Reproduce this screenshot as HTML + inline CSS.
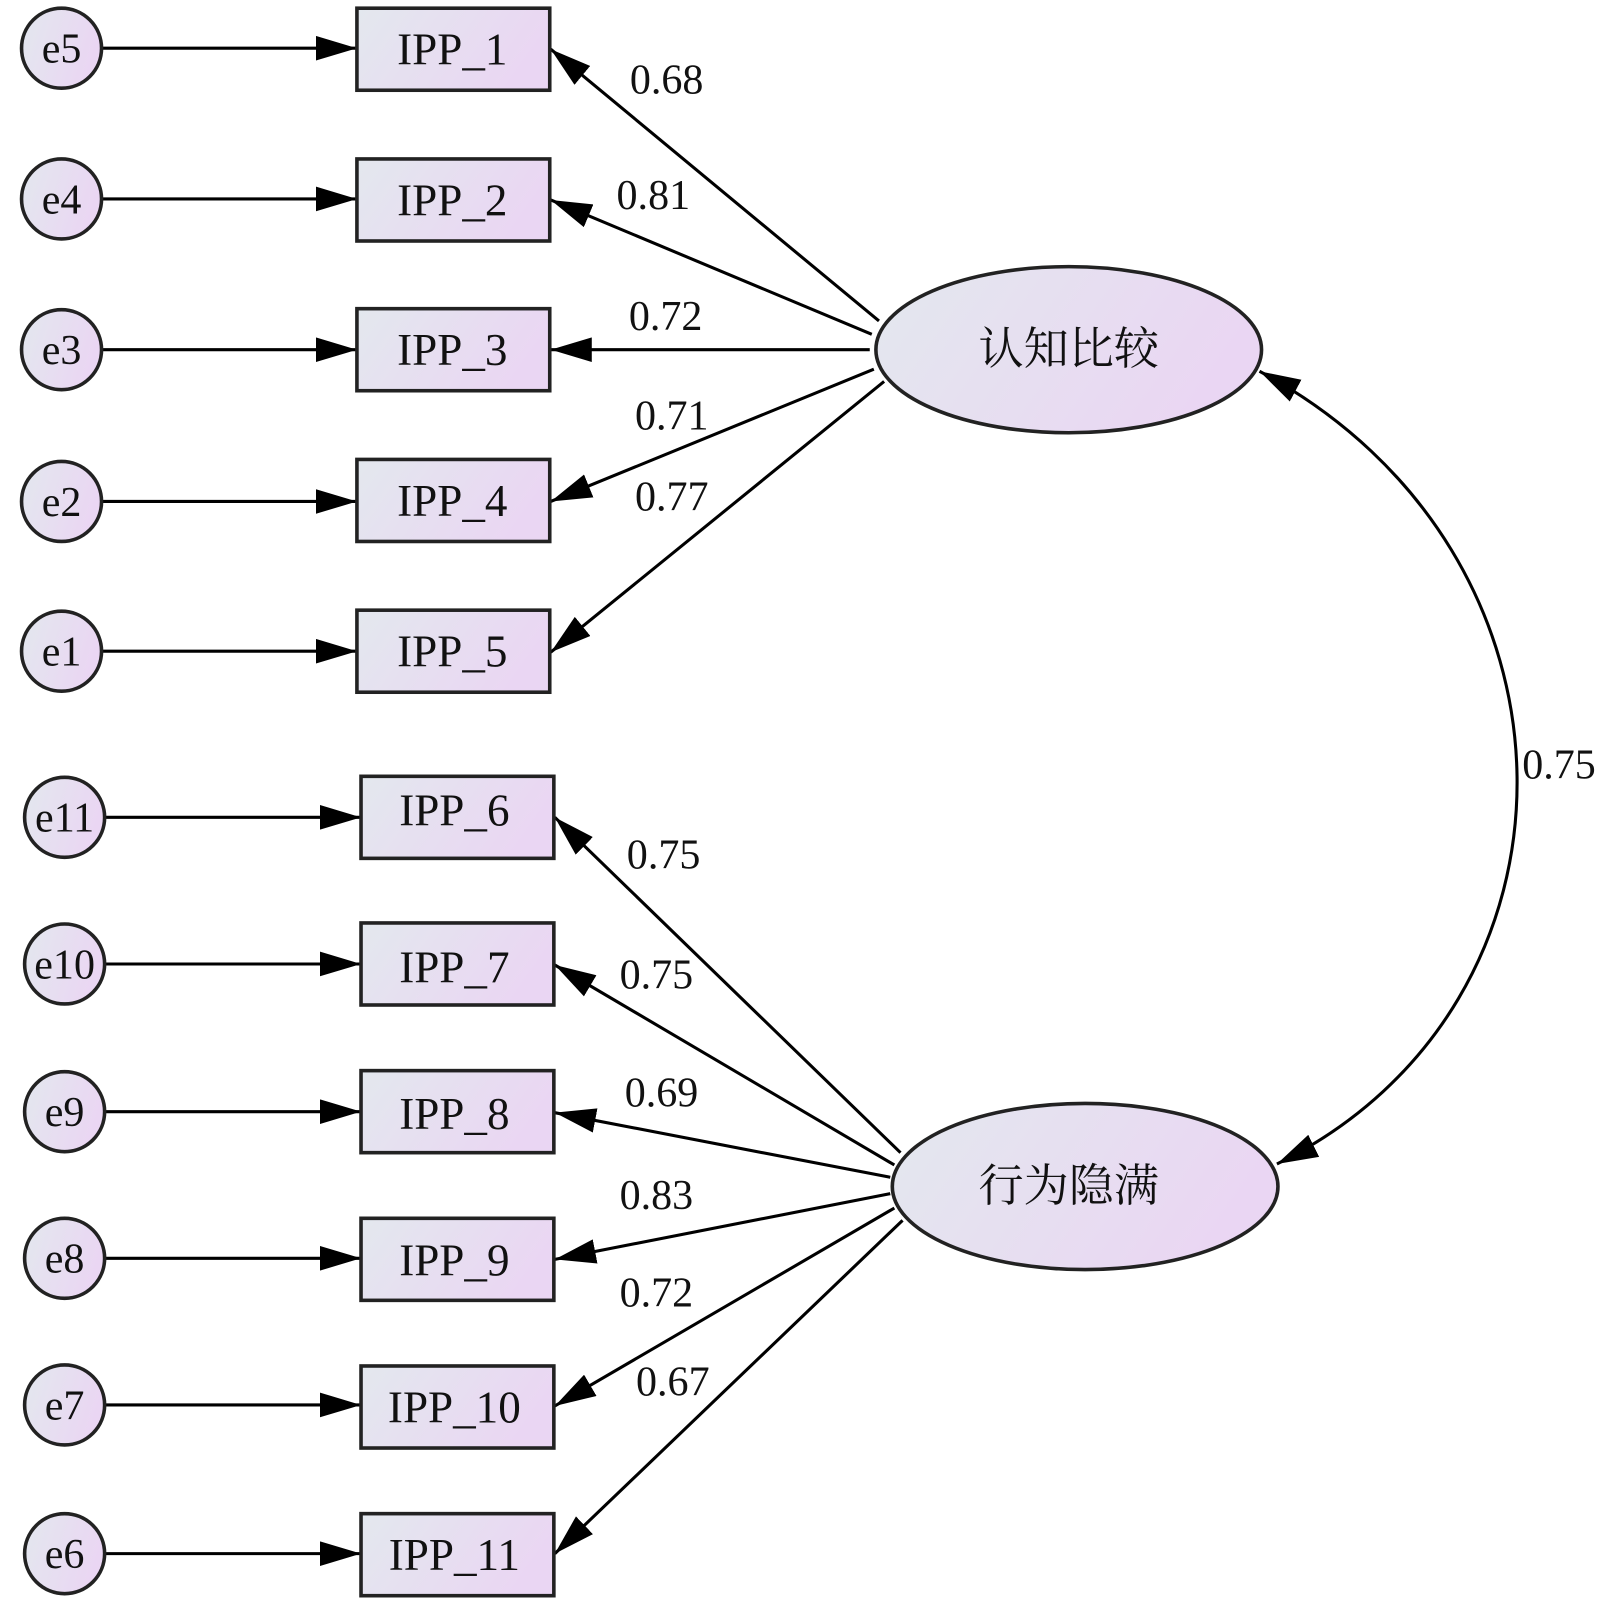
<!DOCTYPE html>
<html><head><meta charset="utf-8"><style>
html,body{margin:0;padding:0;background:#fff}
svg{display:block}
text{font-family:"Liberation Serif","Noto Serif CJK SC",serif;fill:#111}
</style></head><body>
<svg width="1600" height="1608" viewBox="0 0 1560 1568" preserveAspectRatio="none" xmlns="http://www.w3.org/2000/svg">
<defs>
<linearGradient id="g" x1="0" y1="0" x2="1" y2="0.3">
<stop offset="0" stop-color="#e3e8ee"/><stop offset="1" stop-color="#ead6f3"/>
</linearGradient>
<marker id="ah" viewBox="0 0 40 24" refX="40" refY="12" markerWidth="40" markerHeight="24" markerUnits="userSpaceOnUse" orient="auto-start-reverse">
<path d="M0,0 L40,12 L0,24 Z" fill="#000"/>
</marker>
</defs>
<g stroke="#000" stroke-width="3" fill="none">
<path d="M100,47 H348" marker-end="url(#ah)"/>
<path d="M100,194 H348" marker-end="url(#ah)"/>
<path d="M100,341 H348" marker-end="url(#ah)"/>
<path d="M100,489 H348" marker-end="url(#ah)"/>
<path d="M100,635 H348" marker-end="url(#ah)"/>
<path d="M103,797 H352" marker-end="url(#ah)"/>
<path d="M103,940 H352" marker-end="url(#ah)"/>
<path d="M103,1084 H352" marker-end="url(#ah)"/>
<path d="M103,1227 H352" marker-end="url(#ah)"/>
<path d="M103,1370 H352" marker-end="url(#ah)"/>
<path d="M103,1515 H352" marker-end="url(#ah)"/>
<path d="M857,313 L537,48" marker-end="url(#ah)"/>
<path d="M850,326 L537,195" marker-end="url(#ah)"/>
<path d="M848,341 L537,341" marker-end="url(#ah)"/>
<path d="M852,360 L537,489" marker-end="url(#ah)"/>
<path d="M862,372 L537,636" marker-end="url(#ah)"/>
<path d="M878,1124 L541,797" marker-end="url(#ah)"/>
<path d="M872,1136 L541,941" marker-end="url(#ah)"/>
<path d="M868,1148 L541,1085" marker-end="url(#ah)"/>
<path d="M868,1164 L541,1228" marker-end="url(#ah)"/>
<path d="M872,1178 L541,1371" marker-end="url(#ah)"/>
<path d="M880,1190 L541,1515" marker-end="url(#ah)"/>
<path d="M1228,362 C1560,540 1560,980 1245,1135" marker-start="url(#ah)" marker-end="url(#ah)"/>
</g>
<g stroke="#222" stroke-width="3.5" fill="url(#g)">
<circle cx="60" cy="47" r="39"/><circle cx="60" cy="194" r="39"/><circle cx="60" cy="341" r="39"/>
<circle cx="60" cy="489" r="39"/><circle cx="60" cy="635" r="39"/>
<circle cx="63" cy="797" r="39"/><circle cx="63" cy="940" r="39"/><circle cx="63" cy="1084" r="39"/>
<circle cx="63" cy="1227" r="39"/><circle cx="63" cy="1370" r="39"/><circle cx="63" cy="1515" r="39"/>
<rect x="348" y="8" width="188" height="80"/><rect x="348" y="155" width="188" height="80"/>
<rect x="348" y="301" width="188" height="80"/><rect x="348" y="448" width="188" height="80"/>
<rect x="348" y="595" width="188" height="80"/>
<rect x="352" y="757" width="188" height="80"/><rect x="352" y="900" width="188" height="80"/>
<rect x="352" y="1044" width="188" height="80"/><rect x="352" y="1188" width="188" height="80"/>
<rect x="352" y="1332" width="188" height="80"/><rect x="352" y="1476" width="188" height="80"/>
<ellipse cx="1042" cy="341" rx="188" ry="81"/>
<ellipse cx="1058" cy="1157" rx="188" ry="81"/>
</g>
<g font-size="41" text-anchor="middle">
<text x="60" y="61">e5</text><text x="60" y="208">e4</text><text x="60" y="355">e3</text>
<text x="60" y="503">e2</text><text x="60" y="649">e1</text>
<text x="63" y="811">e11</text><text x="63" y="954">e10</text><text x="63" y="1098">e9</text>
<text x="63" y="1241">e8</text><text x="63" y="1384">e7</text><text x="63" y="1529">e6</text>
</g>
<g font-size="44" text-anchor="middle">
<text x="441" y="63">IPP_1</text><text x="441" y="210">IPP_2</text><text x="441" y="356">IPP_3</text>
<text x="441" y="503">IPP_4</text><text x="441" y="650">IPP_5</text>
<text x="443" y="805">IPP_6</text><text x="443" y="958">IPP_7</text><text x="443" y="1101">IPP_8</text>
<text x="443" y="1244">IPP_9</text><text x="443" y="1387">IPP_10</text><text x="443" y="1531">IPP_11</text>
</g>
<g font-size="44" text-anchor="middle">
<text x="1042" y="355">认知比较</text>
<text x="1042" y="1171">行为隐满</text>
</g>
<g font-size="41" text-anchor="middle">
<text x="650" y="91">0.68</text><text x="637" y="204">0.81</text><text x="649" y="322">0.72</text>
<text x="655" y="419">0.71</text><text x="655" y="498">0.77</text>
<text x="647" y="847">0.75</text><text x="640" y="964">0.75</text><text x="645" y="1079">0.69</text>
<text x="640" y="1179">0.83</text><text x="640" y="1274">0.72</text><text x="656" y="1361">0.67</text>
<text x="1520" y="759">0.75</text>
</g>
</svg>
</body></html>
